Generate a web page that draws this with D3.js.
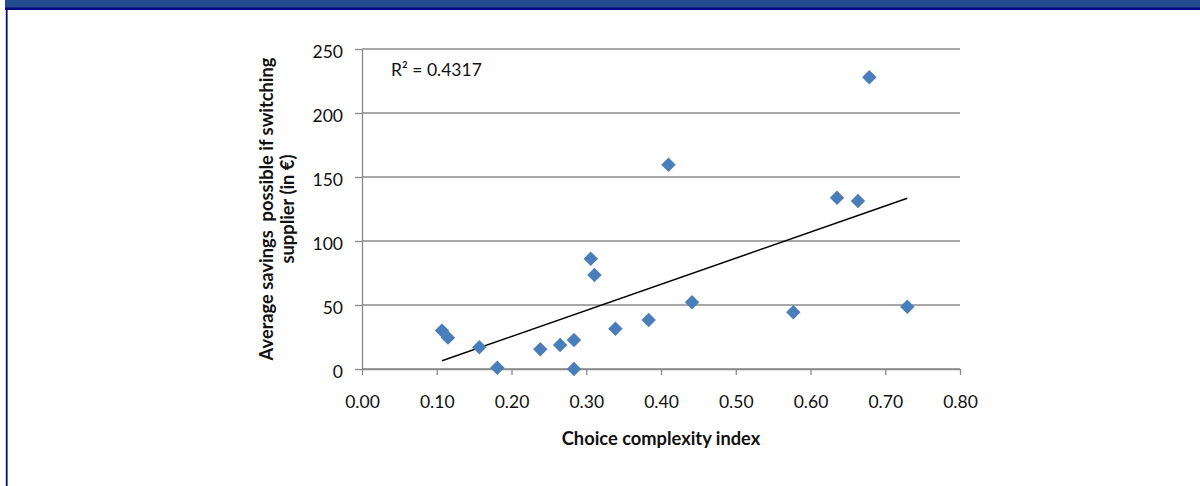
<!DOCTYPE html>
<html>
<head>
<meta charset="utf-8">
<script src="https://cdn.jsdelivr.net/npm/d3@7"></script>
<style>
  html, body { margin: 0; padding: 0; background: #ffffff; }
  svg { display: block; }
</style>
</head>
<body>
<svg id="chart" width="1200" height="486"></svg>
<script>
// Choice complexity index per market vs. average savings from switching supplier (EUR)
const complexityIndex = [0.107, 0.115, 0.157, 0.181, 0.2385, 0.265, 0.2836, 0.2836, 0.306, 0.311,
                         0.339, 0.3835, 0.4415, 0.410, 0.577, 0.6355, 0.6635, 0.6787, 0.7295];
const averageSavings  = [30, 24.5, 17, 1, 15.4, 18.75, 22.7, 0, 86.2, 73.4,
                         31.5, 38.3, 52.1, 159.6, 44.3, 133.8, 131.2, 227.9, 48.7];

const xTickValues = [0, 0.1, 0.2, 0.3, 0.4, 0.5, 0.6, 0.7, 0.8];
const yTickValues = [0, 50, 100, 150, 200, 250];
const xTitle = "Choice complexity index";
const yTitleLines = ["Average savings\u00a0 possible if switching", "supplier (in \u20ac)"];
const rSquaredLabel = "R\u00b2 = 0.4317";

const svg = d3.select("#chart");
const FONT = "Lato, 'Open Sans', sans-serif";

// Page frame: header band and left rule
svg.append("rect").attr("x", 5).attr("y", 0).attr("width", 1195).attr("height", 8).attr("fill", "#244a8f");
svg.append("rect").attr("x", 5).attr("y", 7.5).attr("width", 1195).attr("height", 2.5).attr("fill", "#0a0a80");
svg.append("rect").attr("x", 5.8).attr("y", 8).attr("width", 1.8).attr("height", 478).attr("fill", "#0a0a80");

const x = d3.scaleLinear().domain([0, 0.8]).range([362, 960]);
const y = d3.scaleLinear().domain([0, 250]).range([369, 49]);

const GRID = "#8a8a8a";

// Horizontal gridlines
svg.append("g")
  .selectAll("line")
  .data(yTickValues)
  .join("line")
  .attr("x1", x(0)).attr("x2", x(0.8))
  .attr("y1", d => y(d)).attr("y2", d => y(d))
  .attr("stroke", GRID).attr("stroke-width", 1.3);

// Y axis
const yAxis = svg.append("g")
  .attr("transform", `translate(${x(0)},0)`)
  .call(d3.axisLeft(y).tickValues(yTickValues).tickSize(7).tickSizeOuter(0).tickFormat(d3.format("d")));
yAxis.select(".domain").attr("stroke", GRID).attr("stroke-width", 1.3);
yAxis.selectAll(".tick line").attr("stroke", GRID).attr("stroke-width", 1.3);
yAxis.selectAll(".tick text")
  .attr("x", -19).attr("dy", null).attr("y", 8)
  .attr("font-family", FONT).attr("font-size", 17.5).attr("fill", "#111");

// X axis
const xAxis = svg.append("g")
  .attr("transform", `translate(0,${y(0)})`)
  .call(d3.axisBottom(x).tickValues(xTickValues).tickSize(6).tickSizeOuter(0).tickFormat(d3.format(".2f")));
xAxis.select(".domain").attr("stroke", GRID).attr("stroke-width", 1.3);
xAxis.selectAll(".tick line").attr("stroke", GRID).attr("stroke-width", 1.3);
xAxis.selectAll(".tick text")
  .attr("dy", null).attr("y", 39)
  .attr("font-family", FONT).attr("font-size", 17.5).attr("fill", "#111");

// Linear trend line (least squares) across the observed range
const n = complexityIndex.length;
const mx = d3.mean(complexityIndex), my = d3.mean(averageSavings);
let sxy = 0, sxx = 0;
for (let i = 0; i < n; i++) {
  sxy += (complexityIndex[i] - mx) * (averageSavings[i] - my);
  sxx += (complexityIndex[i] - mx) ** 2;
}
const slope = sxy / sxx, intercept = my - slope * mx;
const [xMin, xMax] = d3.extent(complexityIndex);
svg.append("line")
  .attr("x1", x(xMin)).attr("y1", y(intercept + slope * xMin))
  .attr("x2", x(xMax)).attr("y2", y(intercept + slope * xMax))
  .attr("stroke", "#000").attr("stroke-width", 1.5);

// Markers: rotated squares
const points = complexityIndex.map((c, i) => ({ c, s: averageSavings[i] }));
svg.append("g")
  .selectAll("path")
  .data(points)
  .join("path")
  .attr("d", d3.symbol(d3.symbolSquare, 104)())
  .attr("transform", d => `translate(${x(d.c)},${y(d.s)}) rotate(45)`)
  .attr("fill", "#4a7ebb");

// R-squared annotation
svg.append("text")
  .attr("x", 391).attr("y", 76)
  .attr("font-family", FONT).attr("font-size", 17.5).attr("fill", "#111")
  .text(rSquaredLabel);

// Axis titles
svg.append("text")
  .attr("x", (x(0) + x(0.8)) / 2).attr("y", 445)
  .attr("text-anchor", "middle")
  .attr("font-family", FONT).attr("font-size", 18.3).attr("font-weight", "bold").attr("fill", "#111")
  .text(xTitle);

const yMid = (y(0) + y(250)) / 2;
svg.append("text")
  .attr("transform", `translate(273,${yMid}) rotate(-90)`)
  .attr("text-anchor", "middle")
  .attr("font-family", FONT).attr("font-size", 18.3).attr("font-weight", "bold").attr("fill", "#111")
  .selectAll("tspan")
  .data(yTitleLines)
  .join("tspan")
  .attr("x", 0)
  .attr("y", (d, i) => i * 21)
  .text(d => d);
</script>
</body>
</html>
